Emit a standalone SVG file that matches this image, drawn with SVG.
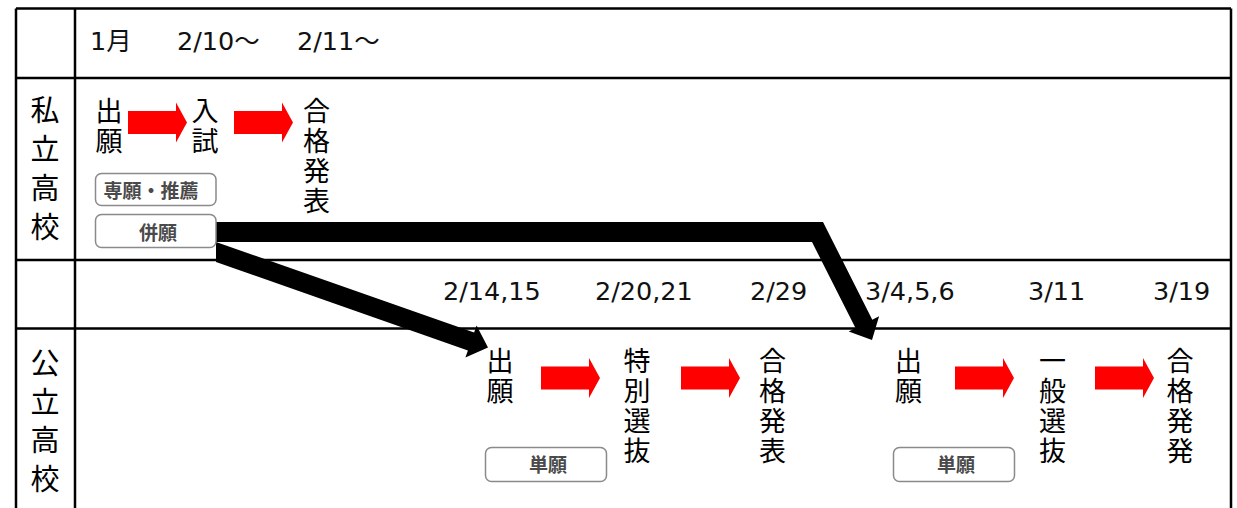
<svg xmlns="http://www.w3.org/2000/svg" width="1237" height="508" viewBox="0 0 1237 508">
<style>
.grid{stroke:#000;stroke-width:2.5;fill:none}
.v{font-family:"Noto Sans CJK JP","Noto Sans CJK SC",sans-serif;font-size:27px;fill:#000;text-anchor:middle}
.side{font-family:"Noto Sans CJK JP","Noto Sans CJK SC",sans-serif;font-size:29px;fill:#000;text-anchor:middle}
.date{font-family:"DejaVu Sans","Noto Sans CJK JP",sans-serif;font-size:25.5px;fill:#111}
.tag rect{fill:#fff;stroke:#8a8a8a;stroke-width:1.5}
.tag text{font-family:"Noto Sans CJK JP","Noto Sans CJK SC",sans-serif;font-size:19px;font-weight:bold;fill:#4a4a4a;text-anchor:middle}
.red{fill:#ff0000}
.conn{fill:#000}
</style>
<defs>
<polygon id="ra" class="red" points="0,-11.5 48,-11.5 48,-20 59,0 48,20 48,11.5 0,11.5"/>
</defs>
<rect width="1237" height="508" fill="#fff"/>
<g id="table">
<path class="grid" d="M16,8.5 H1231 M16,8.5 V508 M1231,8.5 V508 M75,8.5 V508 M16,78 H1231 M16,260 H1231 M16,328.5 H1231"/>
</g>
<g id="header">
<text class="date" x="90" y="50">1月</text>
<text class="date" x="177" y="50">2/10～</text>
<text class="date" x="297" y="50">2/11～</text>
</g>
<g id="dates">
<text class="date" x="443" y="300">2/14,15</text>
<text class="date" x="595" y="300">2/20,21</text>
<text class="date" x="750" y="300">2/29</text>
<text class="date" x="865" y="300">3/4,5,6</text>
<text class="date" x="1028" y="300">3/11</text>
<text class="date" x="1153" y="300">3/19</text>
</g>
<g id="connectors">
<polygon class="conn" points="216,222 823,222 872.3,319.7 879.1,316.3 872,340 848.7,331.6 855.5,328.1 812,242 216,242"/>
<polygon class="conn" points="216,242 474.1,332.5 476.6,325.5 488,347.4 465.4,357.5 467.9,350.5 216,262"/>
<use href="#ra" x="128" y="122.5"/>
<use href="#ra" x="234" y="122.5"/>
<use href="#ra" x="541" y="378"/>
<use href="#ra" x="681" y="378"/>
<use href="#ra" x="955" y="378"/>
<use href="#ra" x="1095" y="378"/>
</g>
<g id="private-label"><text class="side" x="45"><tspan x="45" y="121">私</tspan><tspan x="45" y="160">立</tspan><tspan x="45" y="199">高</tspan><tspan x="45" y="238">校</tspan></text></g>
<g id="public-label"><text class="side" x="45"><tspan x="45" y="374">公</tspan><tspan x="45" y="412.5">立</tspan><tspan x="45" y="451">高</tspan><tspan x="45" y="489.5">校</tspan></text></g>
<g id="p-apply"><text class="v"><tspan x="109" y="121">出</tspan><tspan x="109" y="151">願</tspan></text></g>
<g id="p-exam"><text class="v"><tspan x="205" y="121">入</tspan><tspan x="205" y="151">試</tspan></text></g>
<g id="p-result"><text class="v"><tspan x="316.5" y="121">合</tspan><tspan x="316.5" y="151">格</tspan><tspan x="316.5" y="181">発</tspan><tspan x="316.5" y="211">表</tspan></text></g>
<g id="tag-senkan" class="tag"><rect x="95.5" y="173.5" width="120.5" height="32" rx="6"/><text x="151" y="198">専願・推薦</text></g>
<g id="tag-heikan" class="tag"><rect x="95.5" y="214.5" width="120.5" height="33" rx="6"/><text x="158" y="240">併願</text></g>
<g id="k1-apply"><text class="v"><tspan x="500" y="371">出</tspan><tspan x="500" y="401">願</tspan></text></g>
<g id="k1-special"><text class="v"><tspan x="637" y="371">特</tspan><tspan x="637" y="401">別</tspan><tspan x="637" y="431">選</tspan><tspan x="637" y="461">抜</tspan></text></g>
<g id="k1-result"><text class="v"><tspan x="772.5" y="371">合</tspan><tspan x="772.5" y="401">格</tspan><tspan x="772.5" y="431">発</tspan><tspan x="772.5" y="461">表</tspan></text></g>
<g id="tag-tan1" class="tag"><rect x="485.5" y="447.5" width="121" height="34" rx="6"/><text x="548" y="472">単願</text></g>
<g id="k2-apply"><text class="v"><tspan x="908.5" y="371">出</tspan><tspan x="908.5" y="401">願</tspan></text></g>
<g id="k2-general"><text class="v"><tspan x="1052.5" y="371">一</tspan><tspan x="1052.5" y="401">般</tspan><tspan x="1052.5" y="431">選</tspan><tspan x="1052.5" y="461">抜</tspan></text></g>
<g id="k2-result"><text class="v"><tspan x="1180" y="371">合</tspan><tspan x="1180" y="401">格</tspan><tspan x="1180" y="431">発</tspan><tspan x="1180" y="461">発</tspan></text></g>
<g id="tag-tan2" class="tag"><rect x="893.5" y="447.5" width="121" height="34" rx="6"/><text x="956" y="472">単願</text></g>
</svg>
